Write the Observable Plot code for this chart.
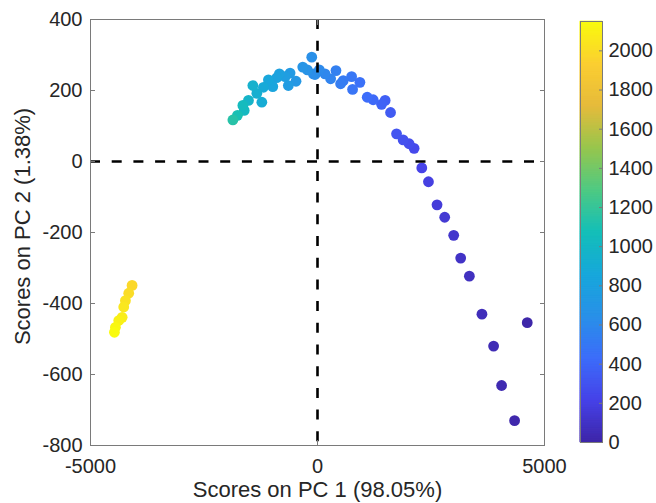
<!DOCTYPE html>
<html><head><meta charset="utf-8">
<script src="https://cdn.jsdelivr.net/npm/d3@7"></script>
<script src="https://cdn.jsdelivr.net/npm/@observablehq/plot@0.6"></script>
<style>
body{margin:0;background:#fff;}
#wrap{position:relative;width:656px;height:503px;font-family:"Liberation Sans",Arial,sans-serif;}
#main,#cbar{position:absolute;top:0;}
#main{left:0px} #cbar{left:570px}
</style></head><body><div id="wrap"><div id="main"></div><div id="cbar"></div></div>
<script>
// PC1 / PC2 scores and the colour variable of each sample
const pc1 = [4620, 4341, 4055, 3879, 3622, 3345, 3154, 3000, 2802, 2633, 2444, 2297, 2128, 2018, 1886, 1741, 1609, 1490, 1411, 1226, 1095, 934, 773, 751, 567, 509, 407, 289, 165, 40, -55, -92, -127, -224, -325, -473, -604, -642, -714, -840, -897, -985, -1081, -1191, -1226, -1336, -1424, -1521, -1615, -1644, -1763, -1864, -4084, -4158, -4231, -4268, -4303, -4378, -4451, -4473];
const pc2 = [-454, -730, -631, -520, -430, -323, -272, -208, -157, -122, -57, -18, 37, 50, 61, 78, 138, 172, 161, 174, 181, 223, 203, 239, 228, 219, 256, 233, 247, 258, 245, 247, 294, 258, 266, 226, 249, 214, 239, 247, 236, 211, 230, 209, 167, 192, 214, 172, 144, 158, 130, 117, -349, -371, -392, -410, -439, -448, -467, -481];
const colorValue = [5, 15, 30, 45, 60, 80, 100, 120, 145, 165, 190, 215, 245, 265, 285, 305, 340, 365, 380, 410, 430, 455, 475, 490, 510, 525, 545, 565, 585, 605, 620, 630, 640, 660, 680, 705, 730, 745, 765, 790, 805, 830, 850, 880, 900, 925, 945, 975, 1020, 1040, 1090, 1140, 1980, 2000, 2030, 2050, 2080, 2100, 2130, 2150];

const xTicks = [-5000, 0, 5000];
const yTicks = [-800, -600, -400, -200, 0, 200, 400];
const cbarTicks = [0, 200, 400, 600, 800, 1000, 1200, 1400, 1600, 1800, 2000];
const xLabel = "Scores on PC 1 (98.05%)";
const yLabel = "Scores on PC 2 (1.38%)";
const colorMax = 2150;
const parula = ["#3e26a8", "#4743e8", "#3d6dfa", "#2a91e8", "#18a8db", "#15bfb8", "#50ca83", "#98c64e", "#e6bb3c", "#fbcf32", "#f9fb0e"];

const data = pc1.map((x, i) => ({x, y: pc2[i], c: colorValue[i]}));
const colorScale = {
  type: "linear",
  domain: parula.map((_, i) => i / (parula.length - 1) * colorMax),
  range: parula,
  interpolate: "rgb"
};
const textColor = "#262626";
const frameColor = "#7a7a7a";
const font = "'Liberation Sans', Arial, sans-serif";
const fmt = d => String(d);

const main = Plot.plot({
  width: 560, height: 503,
  marginLeft: 90, marginRight: 16, marginTop: 19, marginBottom: 58,
  style: {fontFamily: font, fontSize: "20px", color: textColor, background: "transparent", overflow: "visible"},
  x: {domain: [-5000, 5000]},
  y: {domain: [-800, 400]},
  color: colorScale,
  marks: [
    Plot.dot(data, {x: "x", y: "y", fill: "c", r: 5.4}),
    Plot.ruleX([0], {stroke: "#000", strokeWidth: 2.6, strokeDasharray: "10,11.7"}),
    Plot.ruleY([0], {stroke: "#000", strokeWidth: 2.6, strokeDasharray: "10,11.7"}),
    Plot.frame({stroke: frameColor}),
    Plot.axisX(xTicks, {anchor: "bottom", tickSize: -5, tickPadding: 18, stroke: frameColor, fill: textColor, tickFormat: fmt, label: null}),
    Plot.axisX(xTicks, {anchor: "top", tickSize: -5, stroke: frameColor, tickFormat: () => "", label: null}),
    Plot.axisY(yTicks, {anchor: "left", tickSize: -5, tickPadding: 13, stroke: frameColor, fill: textColor, tickFormat: fmt, label: null}),
    Plot.axisY(yTicks, {anchor: "right", tickSize: -5, stroke: frameColor, tickFormat: () => "", label: null}),
    Plot.text([xLabel], {text: d => d, frameAnchor: "bottom", dy: 44, lineAnchor: "middle", textAnchor: "middle", fontSize: 22, fill: textColor}),
    Plot.text([yLabel], {text: d => d, frameAnchor: "left", rotate: -90, dx: -68, dy: -6, lineAnchor: "middle", textAnchor: "middle", fontSize: 22, fill: textColor})
  ]
});
document.getElementById("main").appendChild(main);

const gradientSteps = d3.range(0, colorMax, 2);
const cbar = Plot.plot({
  width: 86, height: 503,
  marginLeft: 10, marginRight: 54, marginTop: 21, marginBottom: 61,
  style: {fontFamily: font, fontSize: "20px", color: textColor, background: "transparent", overflow: "visible"},
  x: {domain: [0, 1], axis: null},
  y: {domain: [0, colorMax]},
  color: colorScale,
  marks: [
    Plot.rect(gradientSteps, {x1: () => 0, x2: () => 1, y1: d => d, y2: d => Math.min(d + 2, colorMax), fill: d => d + 1, stroke: d => d + 1, strokeWidth: 0.6}),
    Plot.frame({stroke: frameColor}),
    Plot.axisY(cbarTicks, {anchor: "right", tickSize: -4, tickPadding: 10, stroke: frameColor, fill: textColor, tickFormat: fmt, label: null})
  ]
});
document.getElementById("cbar").appendChild(cbar);
</script></body></html>
